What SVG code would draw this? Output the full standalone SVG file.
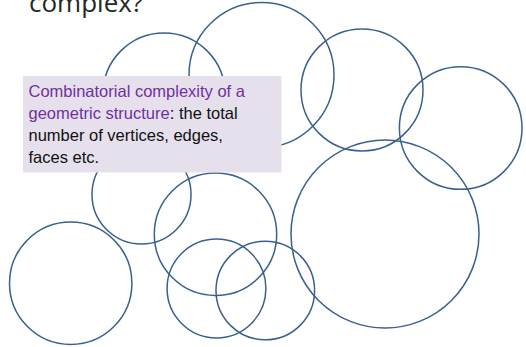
<svg xmlns="http://www.w3.org/2000/svg" width="526" height="347" viewBox="0 0 526 347">
<style>
.c{fill:none;stroke:#3A6090;stroke-width:1.5}
.t{font-family:"Liberation Sans",Arial,sans-serif;font-size:16.5px;fill:#111111}
.p{fill:#7030A0}
</style>
<rect width="526" height="347" fill="#ffffff"/>
<text x="29" y="12" style="font-family:'Open Sans',sans-serif;font-size:26px;fill:#262626">complex?</text>
<g id="connectors"></g>
<g id="circles">
<circle id="n1" class="c" cx="164" cy="94" r="61"/>
<circle id="n2" class="c" cx="261.5" cy="75" r="72.5"/>
<circle id="n3" class="c" cx="362" cy="90" r="61"/>
<circle id="n4" class="c" cx="460.7" cy="128" r="61.3"/>
<circle id="n5" class="c" cx="385" cy="234" r="94"/>
<circle id="n6" class="c" cx="141.5" cy="194.5" r="49.5"/>
<circle id="n7" class="c" cx="70.7" cy="283.3" r="61.2"/>
<circle id="n8" class="c" cx="215.5" cy="234.3" r="61.2"/>
<circle id="n9" class="c" cx="216.5" cy="288.5" r="49.4"/>
<circle id="n10" class="c" cx="265.3" cy="290.5" r="49.3"/>
</g>
<g id="box">
<rect x="23" y="76" width="258.5" height="96.5" fill="#E6E0EC"/>
<text class="t" x="28.5" y="97"><tspan class="p">Combinatorial complexity of a</tspan></text>
<text class="t" x="28.5" y="119"><tspan class="p">geometric structure</tspan>: the total</text>
<text class="t" x="28.5" y="141">number of vertices, edges,</text>
<text class="t" x="28.5" y="163">faces etc.</text>
</g>
</svg>
